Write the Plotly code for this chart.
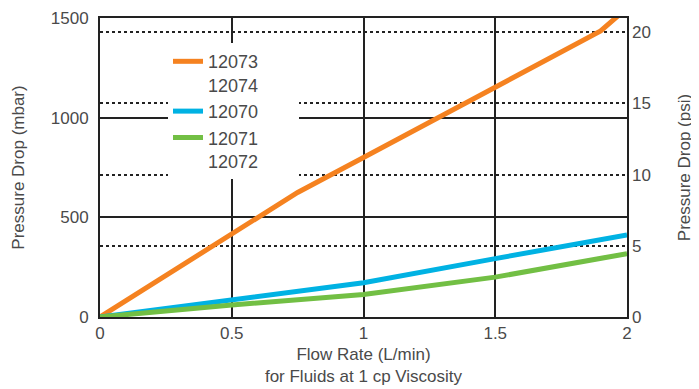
import plotly.graph_objects as go

# Flow rate (L/min) and pressure drop (mbar)
flow_orange = [0, 0.75, 1.0, 1.5, 1.9, 2.0]
drop_orange = [0, 625, 800, 1155, 1435, 1550]

flow_blue = [0, 0.5, 1.0, 1.5, 2.0]
drop_blue = [0, 88, 172, 293, 412]

flow_green = [0, 0.5, 1.0, 1.5, 2.0]
drop_green = [0, 60, 113, 200, 318]

psi_ticks = [0, 5, 10, 15, 20]
mbar_ticks = [0, 500, 1000, 1500]
flow_ticks = [0, 0.5, 1, 1.5, 2]

font_color = "#4a4a4a"
font_family = "Liberation Sans, Arial, sans-serif"

fig = go.Figure()

pad = "&nbsp;" * 7  # widen the white legend box
series = [
    ("12073" + pad + "<br>12074", flow_orange, drop_orange, "#F58220"),
    ("12070", flow_blue, drop_blue, "#00B2E3"),
    ("12071<br>12072", flow_green, drop_green, "#72BF44"),
]
for name, x, y, color in series:
    fig.add_trace(
        go.Scatter(
            x=x,
            y=y,
            mode="lines",
            name=name,
            line=dict(color=color, width=5),
        )
    )

# dummy trace to carry the psi axis
fig.add_trace(
    go.Scatter(x=[0], y=[0], yaxis="y2", mode="markers",
               marker=dict(opacity=0), showlegend=False, hoverinfo="skip")
)

# the page puts the plot 8px in from the top-left corner
fig.update_layout(
    width=699,
    height=389,
    margin=dict(l=92, r=80, t=10, b=80, autoexpand=False),
    paper_bgcolor="white",
    plot_bgcolor="white",
    font=dict(family=font_family, size=17, color=font_color),
    xaxis=dict(
        range=[0, 2],
        tickvals=flow_ticks,
        ticktext=["0", "0.5", "1", "1.5", "2"],
        showgrid=True,
        gridcolor="#222222",
        gridwidth=2,
        zeroline=False,
        showline=True,
        linecolor="#222222",
        linewidth=2,
        mirror=True,
        ticks="",
        automargin=False,
        ticklabeloverflow="allow",
        title=dict(
            text="Flow Rate (L/min)<br>for Fluids at 1 cp Viscosity",
            font=dict(size=17),
            standoff=6,
        ),
    ),
    yaxis=dict(
        range=[0, 1500],
        tickvals=mbar_ticks,
        showgrid=True,
        gridcolor="#222222",
        gridwidth=2,
        zeroline=False,
        showline=True,
        linecolor="#222222",
        linewidth=2,
        mirror=True,
        ticks="",
        automargin=False,
        ticklabeloverflow="allow",
        ticklabelstandoff=6,
        title=dict(text="Pressure Drop (mbar)", font=dict(size=17), standoff=22),
    ),
    yaxis2=dict(
        overlaying="y",
        side="right",
        range=[0, 21],
        tickvals=psi_ticks,
        showgrid=True,
        gridcolor="#222222",
        gridwidth=2,
        griddash="dot",
        zeroline=False,
        showline=False,
        ticks="",
        automargin=False,
        ticklabeloverflow="allow",
        ticklabelstandoff=4,
        title=dict(text="Pressure Drop (psi)", font=dict(size=17), standoff=28),
    ),
    legend=dict(
        x=0.129,
        y=0.916,
        xanchor="left",
        yanchor="top",
        bgcolor="white",
        borderwidth=0,
        valign="top",
        font=dict(size=18, color=font_color),
        tracegroupgap=6,
    ),
)

fig.write_html("out.html")
